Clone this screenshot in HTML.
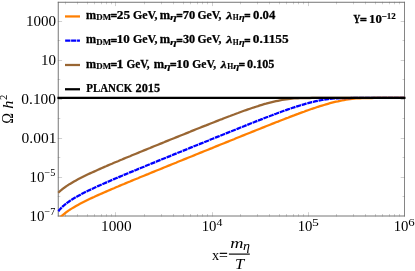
<!DOCTYPE html>
<html><head><meta charset="utf-8"><style>
html,body{margin:0;padding:0;background:#fff;}
svg{display:block;font-family:"Liberation Serif",serif;}
svg{will-change:transform;}
</style></head><body>
<svg width="415" height="271" viewBox="0 0 415 271">
<rect width="415" height="271" fill="#fff"/>
<g fill="none" stroke="#666" stroke-width="0.32">
<path d="M115.5 216.5 v-4.3 M115.5 1.8 v4.3 M212.5 216.5 v-4.3 M212.5 1.8 v4.3 M308.5 216.5 v-4.3 M308.5 1.8 v4.3 M65.5 216.5 v-2.5 M65.5 1.8 v2.5 M77.5 216.5 v-2.5 M77.5 1.8 v2.5 M87.5 216.5 v-2.5 M87.5 1.8 v2.5 M94.5 216.5 v-2.5 M94.5 1.8 v2.5 M101.5 216.5 v-2.5 M101.5 1.8 v2.5 M106.5 216.5 v-2.5 M106.5 1.8 v2.5 M111.5 216.5 v-2.5 M111.5 1.8 v2.5 M144.5 216.5 v-2.5 M144.5 1.8 v2.5 M161.5 216.5 v-2.5 M161.5 1.8 v2.5 M173.5 216.5 v-2.5 M173.5 1.8 v2.5 M183.5 216.5 v-2.5 M183.5 1.8 v2.5 M190.5 216.5 v-2.5 M190.5 1.8 v2.5 M197.5 216.5 v-2.5 M197.5 1.8 v2.5 M202.5 216.5 v-2.5 M202.5 1.8 v2.5 M207.5 216.5 v-2.5 M207.5 1.8 v2.5 M240.5 216.5 v-2.5 M240.5 1.8 v2.5 M257.5 216.5 v-2.5 M257.5 1.8 v2.5 M269.5 216.5 v-2.5 M269.5 1.8 v2.5 M279.5 216.5 v-2.5 M279.5 1.8 v2.5 M286.5 216.5 v-2.5 M286.5 1.8 v2.5 M293.5 216.5 v-2.5 M293.5 1.8 v2.5 M298.5 216.5 v-2.5 M298.5 1.8 v2.5 M303.5 216.5 v-2.5 M303.5 1.8 v2.5 M336.5 216.5 v-2.5 M336.5 1.8 v2.5 M353.5 216.5 v-2.5 M353.5 1.8 v2.5 M365.5 216.5 v-2.5 M365.5 1.8 v2.5 M375.5 216.5 v-2.5 M375.5 1.8 v2.5 M382.5 216.5 v-2.5 M382.5 1.8 v2.5 M389.5 216.5 v-2.5 M389.5 1.8 v2.5 M394.5 216.5 v-2.5 M394.5 1.8 v2.5 M399.5 216.5 v-2.5 M399.5 1.8 v2.5 M57.8 196.5 h2.5 M405.0 196.5 h-2.5 M57.8 177.5 h4.3 M405.0 177.5 h-4.3 M57.8 157.5 h2.5 M405.0 157.5 h-2.5 M57.8 138.5 h4.3 M405.0 138.5 h-4.3 M57.8 118.5 h2.5 M405.0 118.5 h-2.5 M57.8 99.5 h4.3 M405.0 99.5 h-4.3 M57.8 79.5 h2.5 M405.0 79.5 h-2.5 M57.8 60.5 h4.3 M405.0 60.5 h-4.3 M57.8 40.5 h2.5 M405.0 40.5 h-2.5 M57.8 21.5 h4.3 M405.0 21.5 h-4.3"/>
</g>
<g fill="none" stroke="#666"><path d="M58.25 1.82 V216.5 M57.8 2.27 H404.9 M57.8 216.0 H404.9" stroke-width="0.9"/><path d="M404.5 1.82 V216.5" stroke-width="0.8"/></g>
<clipPath id="c"><rect x="57" y="2" width="347.7" height="214.6"/></clipPath>
<g fill="none" stroke-width="2.25" clip-path="url(#c)">
<path d="M58.3 219.6 L58.8 219.0 L59.3 218.4 L59.8 217.9 L60.3 217.4 L60.8 216.9 L61.3 216.4 L61.8 215.9 L62.3 215.5 L62.8 215.0 L63.3 214.6 L63.8 214.2 L64.3 213.8 L64.8 213.4 L65.3 213.0 L65.8 212.6 L66.3 212.2 L66.8 211.8 L67.3 211.5 L67.8 211.1 L68.3 210.8 L68.8 210.4 L69.3 210.1 L69.8 209.8 L70.0 209.6 L72.0 208.4 L74.0 207.2 L76.0 206.0 L78.0 204.9 L80.0 203.8 L82.0 202.8 L84.0 201.8 L86.0 200.8 L88.0 199.8 L90.0 198.8 L92.0 197.9 L94.0 197.0 L96.0 196.0 L98.0 195.1 L100.0 194.2 L102.0 193.4 L104.0 192.5 L106.0 191.6 L108.0 190.7 L110.0 189.9 L112.0 189.0 L114.0 188.2 L116.0 187.3 L118.0 186.5 L120.0 185.6 L122.0 184.8 L124.0 184.0 L126.0 183.1 L128.0 182.3 L130.0 181.5 L132.0 180.6 L134.0 179.8 L136.0 179.0 L138.0 178.2 L140.0 177.3 L142.0 176.5 L144.0 175.7 L146.0 174.9 L148.0 174.1 L150.0 173.2 L152.0 172.4 L154.0 171.6 L156.0 170.8 L158.0 170.0 L160.0 169.2 L162.0 168.4 L164.0 167.5 L166.0 166.7 L168.0 165.9 L170.0 165.1 L172.0 164.3 L174.0 163.5 L176.0 162.7 L178.0 161.8 L180.0 161.0 L182.0 160.2 L184.0 159.4 L186.0 158.6 L188.0 157.8 L190.0 157.0 L192.0 156.2 L194.0 155.4 L196.0 154.5 L198.0 153.7 L200.0 152.9 L202.0 152.1 L204.0 151.3 L206.0 150.5 L208.0 149.7 L210.0 148.9 L212.0 148.1 L214.0 147.2 L216.0 146.4 L218.0 145.6 L220.0 144.8 L222.0 144.0 L224.0 143.2 L226.0 142.4 L228.0 141.6 L230.0 140.8 L232.0 140.0 L234.0 139.2 L236.0 138.3 L238.0 137.5 L240.0 136.7 L242.0 135.9 L244.0 135.1 L246.0 134.3 L248.0 133.5 L250.0 132.7 L252.0 131.9 L254.0 131.1 L256.0 130.3 L258.0 129.5 L260.0 128.7 L262.0 127.9 L264.0 127.1 L266.0 126.3 L268.0 125.5 L270.0 124.7 L272.0 123.9 L274.0 123.1 L276.0 122.3 L278.0 121.6 L280.0 120.8 L282.0 120.0 L284.0 119.2 L286.0 118.4 L288.0 117.7 L290.0 116.9 L292.0 116.1 L294.0 115.4 L296.0 114.6 L298.0 113.9 L300.0 113.1 L302.0 112.4 L304.0 111.7 L306.0 110.9 L308.0 110.2 L310.0 109.5 L312.0 108.8 L314.0 108.2 L316.0 107.5 L318.0 106.8 L320.0 106.2 L322.0 105.6 L324.0 105.0 L326.0 104.4 L328.0 103.8 L330.0 103.2 L332.0 102.7 L334.0 102.2 L336.0 101.7 L338.0 101.3 L340.0 100.8 L342.0 100.4 L344.0 100.1 L346.0 99.7 L348.0 99.4 L350.0 99.2 L352.0 98.9 L354.0 98.7 L356.0 98.5 L358.0 98.4 L360.0 98.3 L362.0 98.2 L364.0 98.1 L366.0 98.0 L368.0 98.0 L370.0 98.0 L372.0 98.0 L374.0 97.9 L376.0 97.9 L378.0 97.9 L380.0 97.9 L382.0 97.9 L384.0 97.9 L386.0 97.9 L388.0 97.9 L390.0 97.9 L392.0 97.9 L394.0 97.9 L396.0 97.9 L398.0 97.9 L400.0 97.9 L402.0 97.9 L404.0 97.9 L405.3 97.9" stroke="#ff7f00"/>
<path d="M58.3 211.3 L58.8 210.7 L59.3 210.0 L59.8 209.5 L60.3 208.9 L60.8 208.4 L61.3 207.9 L61.8 207.4 L62.3 206.9 L62.8 206.4 L63.3 206.0 L63.8 205.5 L64.3 205.1 L64.8 204.7 L65.3 204.3 L65.8 203.9 L66.3 203.5 L66.8 203.1 L67.3 202.7 L67.8 202.4 L68.3 202.0 L68.8 201.7 L69.3 201.3 L69.8 201.0 L70.0 200.8 L72.0 199.5 L74.0 198.3 L76.0 197.1 L78.0 196.0 L80.0 194.9 L82.0 193.8 L84.0 192.8 L86.0 191.8 L88.0 190.8 L90.0 189.9 L92.0 188.9 L94.0 188.0 L96.0 187.1 L98.0 186.1 L100.0 185.2 L102.0 184.4 L104.0 183.5 L106.0 182.6 L108.0 181.7 L110.0 180.9 L112.0 180.0 L114.0 179.1 L116.0 178.3 L118.0 177.5 L120.0 176.6 L122.0 175.8 L124.0 174.9 L126.0 174.1 L128.0 173.3 L130.0 172.4 L132.0 171.6 L134.0 170.8 L136.0 170.0 L138.0 169.1 L140.0 168.3 L142.0 167.5 L144.0 166.7 L146.0 165.8 L148.0 165.0 L150.0 164.2 L152.0 163.4 L154.0 162.6 L156.0 161.8 L158.0 160.9 L160.0 160.1 L162.0 159.3 L164.0 158.5 L166.0 157.7 L168.0 156.9 L170.0 156.1 L172.0 155.2 L174.0 154.4 L176.0 153.6 L178.0 152.8 L180.0 152.0 L182.0 151.2 L184.0 150.4 L186.0 149.6 L188.0 148.8 L190.0 147.9 L192.0 147.1 L194.0 146.3 L196.0 145.5 L198.0 144.7 L200.0 143.9 L202.0 143.1 L204.0 142.3 L206.0 141.5 L208.0 140.7 L210.0 139.8 L212.0 139.0 L214.0 138.2 L216.0 137.4 L218.0 136.6 L220.0 135.8 L222.0 135.0 L224.0 134.2 L226.0 133.4 L228.0 132.6 L230.0 131.8 L232.0 131.0 L234.0 130.2 L236.0 129.4 L238.0 128.6 L240.0 127.8 L242.0 127.0 L244.0 126.2 L246.0 125.4 L248.0 124.6 L250.0 123.8 L252.0 123.0 L254.0 122.2 L256.0 121.4 L258.0 120.6 L260.0 119.9 L262.0 119.1 L264.0 118.3 L266.0 117.5 L268.0 116.8 L270.0 116.0 L272.0 115.3 L274.0 114.5 L276.0 113.8 L278.0 113.0 L280.0 112.3 L282.0 111.5 L284.0 110.8 L286.0 110.1 L288.0 109.4 L290.0 108.7 L292.0 108.0 L294.0 107.4 L296.0 106.7 L298.0 106.1 L300.0 105.5 L302.0 104.9 L304.0 104.3 L306.0 103.7 L308.0 103.2 L310.0 102.6 L312.0 102.1 L314.0 101.7 L316.0 101.2 L318.0 100.8 L320.0 100.4 L322.0 100.0 L324.0 99.7 L326.0 99.4 L328.0 99.1 L330.0 98.9 L332.0 98.7 L334.0 98.5 L336.0 98.4 L338.0 98.3 L340.0 98.2 L342.0 98.1 L344.0 98.0 L346.0 98.0 L348.0 98.0 L350.0 98.0 L352.0 97.9 L354.0 97.9 L356.0 97.9 L358.0 97.9 L360.0 97.9 L362.0 97.9 L364.0 97.9 L366.0 97.9 L368.0 97.9 L370.0 97.9 L372.0 97.9 L374.0 97.9 L376.0 97.9 L378.0 97.9 L380.0 97.9 L382.0 97.9 L384.0 97.9 L386.0 97.9 L388.0 97.9 L390.0 97.9 L392.0 97.9 L394.0 97.9 L396.0 97.9 L398.0 97.9 L400.0 97.9 L402.0 97.9 L404.0 97.9 L405.3 97.9" stroke="#0000ff" stroke-dasharray="5.1 0.7"/>
<path d="M58.3 192.8 L58.8 192.3 L59.3 191.8 L59.8 191.3 L60.3 190.9 L60.8 190.5 L61.3 190.0 L61.8 189.6 L62.3 189.2 L62.8 188.8 L63.3 188.4 L63.8 188.0 L64.3 187.7 L64.8 187.3 L65.3 187.0 L65.8 186.6 L66.3 186.3 L66.8 185.9 L67.3 185.6 L67.8 185.3 L68.3 184.9 L68.8 184.6 L69.3 184.3 L69.8 184.0 L70.0 183.9 L72.0 182.7 L74.0 181.5 L76.0 180.4 L78.0 179.3 L80.0 178.3 L82.0 177.3 L84.0 176.3 L86.0 175.3 L88.0 174.3 L90.0 173.4 L92.0 172.5 L94.0 171.6 L96.0 170.7 L98.0 169.8 L100.0 168.9 L102.0 168.0 L104.0 167.1 L106.0 166.3 L108.0 165.4 L110.0 164.5 L112.0 163.7 L114.0 162.8 L116.0 162.0 L118.0 161.2 L120.0 160.3 L122.0 159.5 L124.0 158.6 L126.0 157.8 L128.0 157.0 L130.0 156.2 L132.0 155.3 L134.0 154.5 L136.0 153.7 L138.0 152.9 L140.0 152.0 L142.0 151.2 L144.0 150.4 L146.0 149.6 L148.0 148.8 L150.0 148.0 L152.0 147.1 L154.0 146.3 L156.0 145.5 L158.0 144.7 L160.0 143.9 L162.0 143.1 L164.0 142.3 L166.0 141.4 L168.0 140.6 L170.0 139.8 L172.0 139.0 L174.0 138.2 L176.0 137.4 L178.0 136.6 L180.0 135.8 L182.0 135.0 L184.0 134.2 L186.0 133.4 L188.0 132.6 L190.0 131.8 L192.0 130.9 L194.0 130.1 L196.0 129.3 L198.0 128.5 L200.0 127.7 L202.0 126.9 L204.0 126.1 L206.0 125.4 L208.0 124.6 L210.0 123.8 L212.0 123.0 L214.0 122.2 L216.0 121.4 L218.0 120.6 L220.0 119.8 L222.0 119.1 L224.0 118.3 L226.0 117.5 L228.0 116.7 L230.0 116.0 L232.0 115.2 L234.0 114.5 L236.0 113.7 L238.0 113.0 L240.0 112.2 L242.0 111.5 L244.0 110.8 L246.0 110.1 L248.0 109.4 L250.0 108.7 L252.0 108.0 L254.0 107.4 L256.0 106.7 L258.0 106.1 L260.0 105.4 L262.0 104.8 L264.0 104.2 L266.0 103.7 L268.0 103.1 L270.0 102.6 L272.0 102.1 L274.0 101.6 L276.0 101.2 L278.0 100.8 L280.0 100.4 L282.0 100.0 L284.0 99.7 L286.0 99.4 L288.0 99.1 L290.0 98.9 L292.0 98.7 L294.0 98.5 L296.0 98.4 L298.0 98.3 L300.0 98.2 L302.0 98.1 L304.0 98.0 L306.0 98.0 L308.0 98.0 L310.0 98.0 L312.0 97.9 L314.0 97.9 L316.0 97.9 L318.0 97.9 L320.0 97.9 L322.0 97.9 L324.0 97.9 L326.0 97.9 L328.0 97.9 L330.0 97.9 L332.0 97.9 L334.0 97.9 L336.0 97.9 L338.0 97.9 L340.0 97.9 L342.0 97.9 L344.0 97.9 L346.0 97.9 L348.0 97.9 L350.0 97.9 L352.0 97.9 L354.0 97.9 L356.0 97.9 L358.0 97.9 L360.0 97.9 L362.0 97.9 L364.0 97.9 L366.0 97.9 L368.0 97.9 L370.0 97.9 L372.0 97.9 L374.0 97.9 L376.0 97.9 L378.0 97.9 L380.0 97.9 L382.0 97.9 L384.0 97.9 L386.0 97.9 L388.0 97.9 L390.0 97.9 L392.0 97.9 L394.0 97.9 L396.0 97.9 L398.0 97.9 L400.0 97.9 L402.0 97.9 L404.0 97.9 L405.3 97.9" stroke="#996633"/>
</g>
<path d="M57.4 97.95 H405.5" stroke="#000" stroke-width="2.3" fill="none"/>
<g font-size="14.5" fill="#000">
<text transform="translate(25.88 26.00) scale(1.039 1)" font-size="14.5">1000</text>
<text transform="translate(40.98 64.94) scale(1.036 1)" font-size="14.5">10</text>
<text transform="translate(21.32 103.88) scale(1.064 1)" font-size="14.5">0.100</text>
<text transform="translate(21.52 142.82) scale(1.069 1)" font-size="14.5">0.001</text>
<text transform="translate(29.39 181.76) scale(1.033 1)" font-size="14.5">10</text><text transform="translate(44.59 175.76) scale(0.986 1)" font-size="10.4">−5</text>
<text transform="translate(29.39 220.70) scale(1.033 1)" font-size="14.5">10</text><text transform="translate(44.59 214.70) scale(0.974 1)" font-size="10.4">−7</text>
<text transform="translate(100.99 231.20) scale(1.056 1)" font-size="14.5">1000</text>
<text transform="translate(201.67 231.20) scale(1.017 1)" font-size="14.5">10</text><text transform="translate(216.52 225.80) scale(1.137 1)" font-size="10.4">4</text>
<text transform="translate(297.70 231.20) scale(1.017 1)" font-size="14.5">10</text><text transform="translate(312.00 225.80) scale(1.314 1)" font-size="10.4">5</text>
<text transform="translate(393.73 231.20) scale(1.017 1)" font-size="14.5">10</text><text transform="translate(408.27 225.80) scale(1.237 1)" font-size="10.4">6</text>
</g>
<g stroke-width="2.25" fill="none">
<path d="M65 16.45 H80" stroke="#ff7f00"/>
<path d="M65.15 40.72 H79.95" stroke="#0000ff" stroke-dasharray="5.25 0.7"/>
<path d="M65 64.99 H80" stroke="#996633"/>
<path d="M65 89.26 H80" stroke="#000"/>
</g>
<g fill="#000" stroke="#000" stroke-width="0.25">
<text transform="translate(86.06 19.05) scale(0.991 1.03)" font-size="12.3" font-weight="bold">m</text>
<text transform="translate(96.24 20.35) scale(1.125 1)" font-size="7.9" font-weight="bold" stroke-width="0.15">DM</text>
<text transform="translate(110.64 20.35) scale(0.909 1)" font-size="12.3" font-weight="bold" stroke-width="0.55">=</text>
<text transform="translate(116.83 19.05) scale(1.087 1)" font-size="12.3" font-weight="bold">25</text>
<text transform="translate(132.94 19.05) scale(0.965 1)" font-size="12.3" font-weight="bold">GeV,</text>
<text transform="translate(159.86 19.05) scale(1.012 1.03)" font-size="12.3" font-weight="bold">m</text>
<text transform="translate(170.05 20.35) scale(1.490 1)" font-size="8.3" font-weight="bold" font-style="italic" stroke-width="0.15">η</text>
<text transform="translate(176.33 20.35) scale(0.927 1)" font-size="12.3" font-weight="bold" stroke-width="0.55">=</text>
<text transform="translate(182.68 19.05) scale(1.015 1)" font-size="12.3" font-weight="bold">70</text>
<text transform="translate(197.45 19.05) scale(0.949 1)" font-size="12.3" font-weight="bold">GeV,</text>
<text transform="translate(226.29 19.05) scale(1.277 1)" font-size="10.9" font-weight="bold" font-style="italic">λ</text>
<text transform="translate(232.87 20.35) scale(0.968 1)" font-size="7.9" font-weight="bold" stroke-width="0.15">H</text>
<text transform="translate(238.99 20.35) scale(1.267 1)" font-size="8.3" font-weight="bold" font-style="italic" stroke-width="0.15">η</text>
<text transform="translate(244.24 20.35) scale(0.909 1)" font-size="12.3" font-weight="bold" stroke-width="0.55">=</text>
<text transform="translate(253.02 19.05) scale(1.036 1)" font-size="12.3" font-weight="bold">0.04</text>
<text transform="translate(86.06 43.30) scale(0.991 1.03)" font-size="12.3" font-weight="bold">m</text>
<text transform="translate(96.24 44.60) scale(1.125 1)" font-size="7.9" font-weight="bold" stroke-width="0.15">DM</text>
<text transform="translate(110.64 44.60) scale(0.909 1)" font-size="12.3" font-weight="bold" stroke-width="0.55">=</text>
<text transform="translate(116.66 43.30) scale(1.059 1)" font-size="12.3" font-weight="bold">10</text>
<text transform="translate(132.94 43.30) scale(0.965 1)" font-size="12.3" font-weight="bold">GeV,</text>
<text transform="translate(159.86 43.30) scale(1.012 1.03)" font-size="12.3" font-weight="bold">m</text>
<text transform="translate(170.05 44.60) scale(1.490 1)" font-size="8.3" font-weight="bold" font-style="italic" stroke-width="0.15">η</text>
<text transform="translate(176.33 44.60) scale(0.927 1)" font-size="12.3" font-weight="bold" stroke-width="0.55">=</text>
<text transform="translate(182.94 43.30) scale(0.993 1)" font-size="12.3" font-weight="bold">30</text>
<text transform="translate(197.45 43.30) scale(0.949 1)" font-size="12.3" font-weight="bold">GeV,</text>
<text transform="translate(226.29 43.30) scale(1.277 1)" font-size="10.9" font-weight="bold" font-style="italic">λ</text>
<text transform="translate(232.87 44.60) scale(0.968 1)" font-size="7.9" font-weight="bold" stroke-width="0.15">H</text>
<text transform="translate(238.99 44.60) scale(1.267 1)" font-size="8.3" font-weight="bold" font-style="italic" stroke-width="0.15">η</text>
<text transform="translate(244.24 44.60) scale(0.909 1)" font-size="12.3" font-weight="bold" stroke-width="0.55">=</text>
<text transform="translate(252.80 43.30) scale(1.083 1)" font-size="12.3" font-weight="bold">0.1155</text>
<text transform="translate(86.06 67.55) scale(0.991 1.03)" font-size="12.3" font-weight="bold">m</text>
<text transform="translate(96.24 68.85) scale(1.125 1)" font-size="7.9" font-weight="bold" stroke-width="0.15">DM</text>
<text transform="translate(110.64 68.85) scale(0.909 1)" font-size="12.3" font-weight="bold" stroke-width="0.55">=</text>
<text transform="translate(116.59 67.55) scale(1.128 1)" font-size="12.3" font-weight="bold">1</text>
<text transform="translate(126.47 67.55) scale(0.912 1)" font-size="12.3" font-weight="bold">GeV,</text>
<text transform="translate(153.76 67.55) scale(1.012 1.03)" font-size="12.3" font-weight="bold">m</text>
<text transform="translate(163.96 68.85) scale(1.466 1)" font-size="8.3" font-weight="bold" font-style="italic" stroke-width="0.15">η</text>
<text transform="translate(170.02 68.85) scale(0.944 1)" font-size="12.3" font-weight="bold" stroke-width="0.55">=</text>
<text transform="translate(176.16 67.55) scale(1.059 1)" font-size="12.3" font-weight="bold">10</text>
<text transform="translate(192.35 67.55) scale(0.940 1)" font-size="12.3" font-weight="bold">GeV,</text>
<text transform="translate(220.86 67.55) scale(1.216 1)" font-size="10.9" font-weight="bold" font-style="italic">λ</text>
<text transform="translate(227.17 68.85) scale(0.968 1)" font-size="7.9" font-weight="bold" stroke-width="0.15">H</text>
<text transform="translate(233.28 68.85) scale(1.341 1)" font-size="8.3" font-weight="bold" font-style="italic" stroke-width="0.15">η</text>
<text transform="translate(238.85 68.85) scale(0.892 1)" font-size="12.3" font-weight="bold" stroke-width="0.55">=</text>
<text transform="translate(247.04 67.55) scale(0.991 1)" font-size="12.3" font-weight="bold">0.105</text>
<text transform="translate(86.31 91.75) scale(0.885 1)" font-size="12.3" font-weight="bold">PLANCK</text>
<text transform="translate(135.48 91.75) scale(1.004 1)" font-size="12.3" font-weight="bold">2015</text>
<text transform="translate(353.23 22.70) scale(0.807 1)" font-size="12.3" font-weight="bold">Y</text>
<text transform="translate(359.90 24.00) scale(0.979 1)" font-size="12.3" font-weight="bold" stroke-width="0.55">=</text>
<text transform="translate(368.98 22.70) scale(1.041 1)" font-size="12.3" font-weight="bold">10</text>
<text transform="translate(381.63 19.30) scale(1.133 1)" font-size="7.9" font-weight="bold" stroke-width="0.15">−12</text>
</g>
<g font-size="14.5" fill="#000">
<g transform="translate(13.0 124) rotate(-90)"><text transform="translate(0.25 0.00) scale(0.971 1.08)" font-size="14.8">Ω</text><text transform="translate(15.13 -0.20) scale(1.103 1)" font-size="14.8" font-style="italic">h</text><text transform="translate(24.05 -6.20) scale(1.017 1)" font-size="10.5">2</text></g>
<text transform="translate(211.89 259.50) scale(0.971 1)" font-size="14.8">x</text><text transform="translate(219.16 259.50) scale(1.003 1)" font-size="14.8" stroke="#000" stroke-width="0.45">=</text><text transform="translate(230.36 248.30) scale(1.236 1)" font-size="14.8" font-style="italic">m</text><text transform="translate(242.91 249.50) scale(1.211 1)" font-size="11.6" font-style="italic">η</text><text transform="translate(235.02 269.10) scale(1.118 1)" font-size="14.8" font-style="italic">T</text>
<path d="M228.9 254.1 H249.8" stroke="#000" stroke-width="1.15"/>
</g>
</svg>
</body></html>
